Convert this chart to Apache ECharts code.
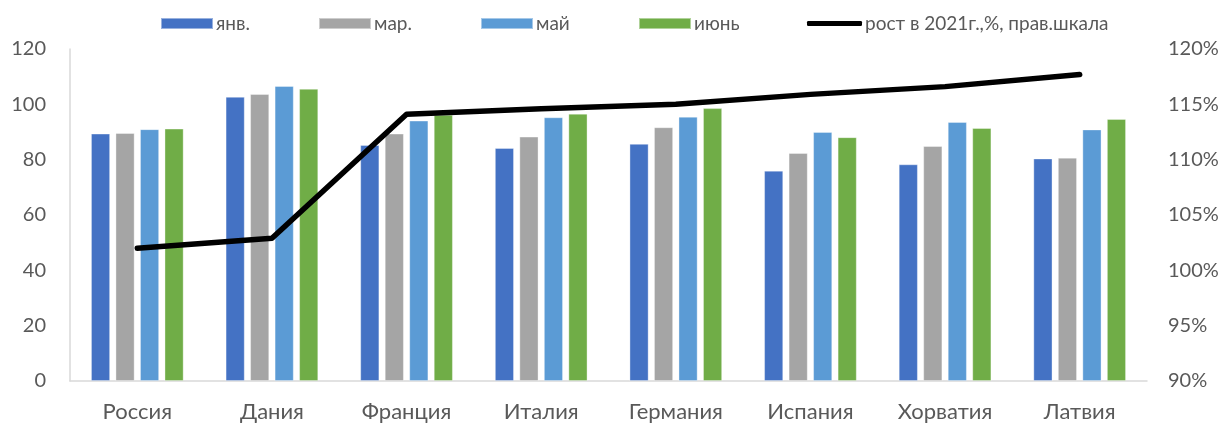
<!DOCTYPE html>
<html>
<head>
<meta charset="utf-8">
<script src="https://cdn.jsdelivr.net/npm/echarts@6/dist/echarts.min.js"></script>
<style>
  html, body { margin: 0; padding: 0; background: #fff; }
  #chart { width: 1225px; height: 423px; }
</style>
</head>
<body>
<div id="chart"></div>
<script>
// Countries along the horizontal axis
const categories = ['Россия', 'Дания', 'Франция', 'Италия', 'Германия', 'Испания', 'Хорватия', 'Латвия'];

// Monthly index values (left scale)
const janValues = [89.4, 102.7, 85.3, 84.2, 85.7, 76.0, 78.3, 80.4];
const marValues = [89.6, 103.7, 89.4, 88.3, 91.7, 82.4, 84.9, 80.7];
const mayValues = [91.0, 106.6, 94.1, 95.3, 95.5, 90.0, 93.6, 90.9];
const junValues = [91.2, 105.6, 96.2, 96.6, 98.6, 88.1, 91.4, 94.7];

// Growth in 2021, % (right scale)
const growthValues = [102.0, 102.9, 114.1, 114.6, 115.0, 115.9, 116.6, 117.7];

// Series names as shown in the legend
const seriesNames = ['янв.', 'мар.', 'май', 'июнь', 'рост в 2021г.,%, прав.шкала'];

// Axis ranges
const leftTicks = { min: 0, max: 120, interval: 20 };
const rightTicks = { min: 90, max: 120, interval: 5 };

const FONT = 'Lato, "Open Sans", sans-serif';
const TEXT = '#595959';
const colors = ['#4472C4', '#A5A5A5', '#5B9BD5', '#70AD47', '#000000'];
const barData = [janValues, marValues, mayValues, junValues];

const legendLeft = [160, 318, 480, 638, 807];
const legends = seriesNames.map((name, i) => ({
  data: [name],
  left: legendLeft[i],
  top: 14,
  padding: 0,
  itemWidth: i === 4 ? 55 : 52,
  itemHeight: i === 4 ? 5 : 11,
  icon: i === 4 ? 'roundRect' : 'rect',
  itemGap: 0,
  textStyle: { fontFamily: FONT, fontSize: 19, color: TEXT, padding: [0, 0, 0, -2] },
  selectedMode: false
}));

const series = barData.map((vals, i) => ({
  name: seriesNames[i],
  type: 'bar',
  data: vals,
  barWidth: 19,
  barGap: '29%',
  itemStyle: { color: colors[i], borderColor: 'rgba(255,255,255,0.45)', borderWidth: 0.8 }
}));

series.push({
  name: seriesNames[4],
  type: 'line',
  yAxisIndex: 1,
  data: growthValues,
  showSymbol: false,
  symbol: 'none',
  z: 10,
  lineStyle: { color: '#000', width: 5.5, cap: 'round', join: 'round' },
  itemStyle: { color: '#000' }
});

const chart = echarts.init(document.getElementById('chart'), null, { renderer: 'canvas' });
chart.setOption({
  animation: false,
  backgroundColor: '#fff',
  color: colors,
  legend: legends,
  grid: { left: 70, right: 78, top: 49, bottom: 41, containLabel: false },
  xAxis: {
    type: 'category',
    data: categories,
    axisLine: { show: true, lineStyle: { color: '#D9D9D9', width: 1.5 } },
    axisTick: { show: false },
    axisLabel: { fontFamily: FONT, fontSize: 22, color: TEXT, margin: 20 }
  },
  yAxis: [
    {
      type: 'value',
      min: leftTicks.min, max: leftTicks.max, interval: leftTicks.interval,
      axisLine: { show: true, lineStyle: { color: '#D9D9D9', width: 1.5 } },
      axisTick: { show: false },
      splitLine: { show: false },
      axisLabel: { fontFamily: FONT, fontSize: 20, color: TEXT, margin: 24 }
    },
    {
      type: 'value',
      position: 'right',
      min: rightTicks.min, max: rightTicks.max, interval: rightTicks.interval,
      axisLine: { show: false },
      axisTick: { show: false },
      splitLine: { show: false },
      axisLabel: { fontFamily: FONT, fontSize: 20, color: TEXT, margin: 21, formatter: '{value}%' }
    }
  ],
  series: series
});
</script>
</body>
</html>
